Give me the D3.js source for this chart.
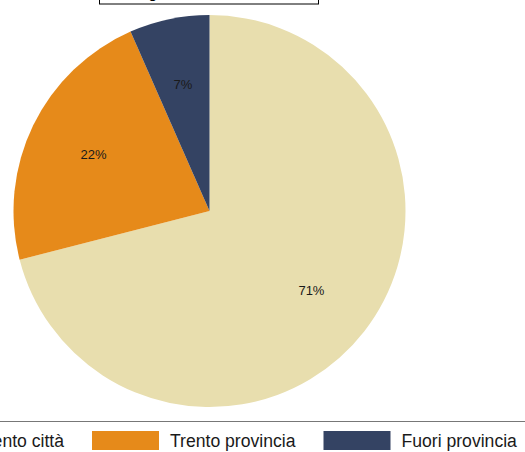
<!DOCTYPE html>
<html>
<head>
<meta charset="utf-8">
<script src="https://cdn.jsdelivr.net/npm/d3@7"></script>
<style>
  body { margin: 0; background: #fff; }
  svg { display: block; font-family: "Liberation Sans", Arial, sans-serif; }
</style>
</head>
<body>
<div id="chart"></div>
<script>
// data
const categories = ["Trento città", "Trento provincia", "Fuori provincia"];
const shares = [71.0, 22.4, 6.6];
const colors = ["#e8deae", "#e68a1a", "#344363"];
const titleText = "Origine dei visitatori";

const width = 525, height = 452;
const cx = 209.5, cy = 211, radius = 196;

const svg = d3.select("#chart").append("svg")
    .attr("width", width)
    .attr("height", height);

// title box, mostly cut off at the top
svg.append("rect")
    .attr("x", 99.5)
    .attr("y", -30)
    .attr("width", 219)
    .attr("height", 34)
    .attr("fill", "#fff")
    .attr("stroke", "#000")
    .attr("stroke-width", 1);

svg.append("text")
    .attr("x", 127)
    .attr("y", -2)
    .attr("font-size", 16)
    .attr("fill", "#000")
    .text(titleText);

const data = categories.map((c, i) => ({name: c, value: shares[i]}));

const pie = d3.pie().sort(null).value(d => d.value);
const arc = d3.arc().innerRadius(0).outerRadius(radius);
const labelArc = d3.arc().innerRadius(129).outerRadius(129);
const color = d3.scaleOrdinal().domain(categories).range(colors);

const g = svg.append("g")
    .attr("transform", `translate(${cx},${cy})`);

const arcs = pie(data);

g.selectAll(".slice")
    .data(arcs)
    .join("path")
    .attr("class", "slice")
    .attr("d", arc)
    .attr("fill", d => color(d.data.name));

g.selectAll(".label")
    .data(arcs)
    .join("text")
    .attr("class", "label")
    .attr("transform", d => `translate(${labelArc.centroid(d)})`)
    .attr("text-anchor", "middle")
    .attr("dy", "0.36em")
    .attr("font-size", 13)
    .attr("fill", "#1a1a1a")
    .text(d => Math.round(d.data.value) + "%");

// legend
svg.append("line")
    .attr("x1", 0).attr("x2", width)
    .attr("y1", 421.5).attr("y2", 421.5)
    .attr("stroke", "#777")
    .attr("stroke-width", 1);

const legend = svg.append("g").attr("class", "legend");
const swW = 67, swH = 19, swY = 431, textGap = 11, itemGap = 28;

const items = legend.selectAll(".item")
    .data(categories)
    .join("g")
    .attr("class", "item");

items.append("rect")
    .attr("width", swW)
    .attr("height", swH)
    .attr("y", swY)
    .attr("fill", d => color(d));

items.append("text")
    .attr("y", swY + swH / 2)
    .attr("dy", "0.36em")
    .attr("font-size", 17.6)
    .attr("fill", "#1a1a1a")
    .text(d => d);

// place items one after another, second swatch anchored where it sits in the picture
const widths = [];
items.select("text").each(function() { widths.push(this.getComputedTextLength()); });
let x = 92 - itemGap - widths[0] - textGap - swW;
items.each(function(d, i) {
    d3.select(this).select("rect").attr("x", x);
    d3.select(this).select("text").attr("x", x + swW + textGap);
    x += swW + textGap + widths[i] + itemGap;
});
</script>
</body>
</html>
